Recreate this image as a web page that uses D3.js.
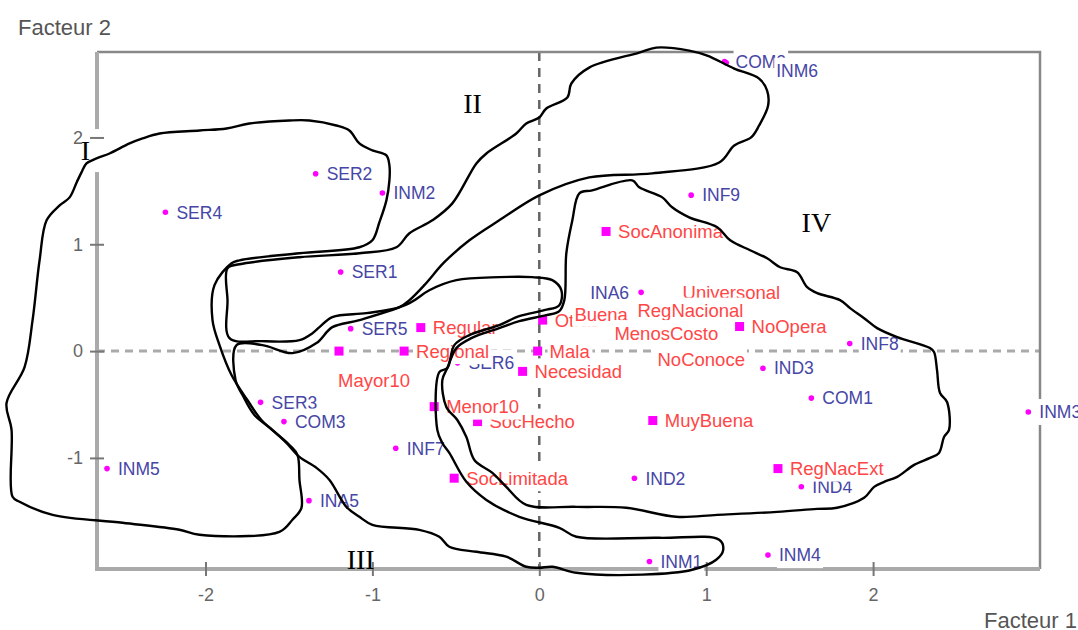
<!DOCTYPE html>
<html>
<head>
<meta charset="utf-8">
<script src="https://cdn.jsdelivr.net/npm/d3@7"></script>
<style>
  body { margin: 0; background: #fff; }
  text { font-family: "Liberation Sans", Arial, sans-serif; }
</style>
</head>
<body>
<script>
// tick values
const xTicks = [-2, -1, 0, 1, 2];
const yTicks = [-1, 0, 1, 2];

// blue points (individuals)
const blueNames = ['COM2', 'INM6', 'SER2', 'SER4', 'INM2', 'INF9', 'SER1', 'SER5', 'INA6', 'SER6', 'INF8', 'IND3',
  'COM1', 'INM3', 'SER3', 'COM3', 'INM5', 'INA5', 'INF7', 'IND2', 'INM1', 'IND4', 'INM4'];
const blueF1 = [1.11, 1.12, -1.34, -2.24, -0.94, 0.91, -1.19, -1.13, 0.61, -0.49, 1.86, 1.34,
  1.63, 2.93, -1.67, -1.53, -2.59, -1.38, -0.86, 0.57, 0.66, 1.57, 1.37];
const blueF2 = [2.71, 2.70, 1.66, 1.30, 1.48, 1.46, 0.74, 0.21, 0.55, -0.11, 0.07, -0.16,
  -0.44, -0.57, -0.48, -0.66, -1.10, -1.40, -0.91, -1.19, -1.97, -1.27, -1.91];

// red points (modalities)
const redNames = ['SocAnonima', 'Otras', 'Buena', 'Universonal', 'RegNacional', 'MenosCosto', 'NoOpera', 'NoConoce',
  'Regular', 'Regional', 'Mayor10', 'Mala', 'Necesidad', 'SocHecho', 'Menor10', 'MuyBuena', 'SocLimitada', 'RegNacExt'];
const redF1 = [0.40, 0.02, 0.36, 1.08, 0.75, 0.60, 1.20, 0.90,
  -0.71, -0.81, -1.20, -0.01, -0.10, -0.37, -0.63, 0.68, -0.51, 1.43];
const redF2 = [1.12, 0.29, 0.33, 0.53, 0.36, 0.15, 0.23, -0.10,
  0.22, 0.00, 0.00, 0.00, -0.19, -0.66, -0.52, -0.65, -1.19, -1.10];

// hand drawn groups, in factor units
const contourI = [[-2.952,1.224],[-2.874,1.364],[-2.814,1.439],[-2.772,1.579],[-2.743,1.673],[-2.713,1.757],[-2.653,1.804],
  [-2.575,1.850],[-2.455,1.944],[-2.377,1.991],[-2.275,2.037],[-2.036,2.065],[-1.874,2.084],[-1.737,2.131],[-1.497,2.159],
  [-1.377,2.159],[-1.216,2.112],[-1.138,2.065],[-1.078,1.944],[-1.0,1.879],[-0.916,1.832],[-0.898,1.738],[-0.898,1.598],
  [-0.916,1.411],[-0.958,1.206],[-1.0,1.037],[-1.078,0.972],[-1.437,0.916],[-1.796,0.850],[-1.844,0.822],[-1.946,0.617],
  [-1.958,0.290],[-1.916,0.056],[-1.844,-0.224],[-1.749,-0.458],[-1.665,-0.645],[-1.497,-0.879],[-1.449,-0.972],
  [-1.437,-1.206],[-1.425,-1.467],[-1.479,-1.579],[-1.557,-1.692],[-2.036,-1.720],[-2.156,-1.673],[-2.497,-1.607],
  [-2.916,-1.533],[-3.114,-1.411],[-3.156,-1.364],[-3.162,-0.738],[-3.192,-0.486],[-3.084,-0.150],[-3.036,0.290],[-2.994,0.850]];
const contourII = [[0.701,2.841],[0.599,2.794],[0.299,2.654],[0.192,2.505],[0.168,2.374],[0.042,2.271],[0.0,2.187],
  [-0.078,2.131],[-0.138,2.037],[-0.317,1.850],[-0.377,1.757],[-0.521,1.383],[-0.641,1.224],[-0.778,1.103],[-0.856,0.972],
  [-1.078,0.916],[-1.437,0.879],[-1.796,0.813],[-1.868,0.776],[-1.868,0.477],[-1.856,0.121],[-1.665,0.093],[-1.437,0.103],
  [-1.359,0.168],[-1.317,0.224],[-1.240,0.318],[-1.036,0.355],[-0.838,0.411],[-0.778,0.477],[-0.689,0.617],[-0.569,0.832],
  [-0.419,1.037],[-0.240,1.224],[0.0,1.458],[0.299,1.626],[0.677,1.664],[1.078,1.766],[1.168,1.925],[1.269,2.0],
  [1.317,2.112],[1.371,2.299],[1.365,2.439],[1.317,2.551],[1.168,2.645],[1.006,2.766],[0.898,2.813]];
const contourIII = [[-1.814,0.056],[-1.659,0.056],[-1.479,-0.019],[-1.335,0.075],[-1.240,0.224],[-1.078,0.290],[-0.778,0.449],
  [-0.659,0.570],[-0.497,0.664],[-0.240,0.692],[-0.042,0.692],[0.078,0.664],[0.132,0.570],[0.120,0.430],[0.030,0.383],
  [-0.120,0.327],[-0.240,0.243],[-0.419,0.150],[-0.509,0.056],[-0.551,-0.159],[-0.599,-0.196],[-0.611,-0.738],
  [-0.581,-0.860],[-0.539,-0.953],[-0.437,-1.224],[-0.317,-1.393],[-0.120,-1.551],[0.120,-1.654],[0.222,-1.738],
  [0.719,-1.748],[1.078,-1.766],[1.102,-1.860],[1.060,-1.953],[0.916,-2.047],[0.617,-2.093],[0.222,-2.075],[0.078,-2.019],
  [0.0,-2.028],[-0.078,-2.019],[-0.198,-1.925],[-0.377,-1.879],[-0.539,-1.832],[-0.599,-1.738],[-0.719,-1.673],
  [-1.0,-1.626],[-1.078,-1.551],[-1.156,-1.458],[-1.257,-1.206],[-1.335,-1.093],[-1.437,-0.991],[-1.515,-0.860],
  [-1.599,-0.738],[-1.707,-0.598],[-1.778,-0.411],[-1.820,-0.271]];
const contourIV = [[0.240,1.477],[0.317,1.505],[0.557,1.598],[0.599,1.533],[0.737,1.439],[0.796,1.346],[0.898,1.252],
  [1.066,1.159],[1.144,1.037],[1.263,0.944],[1.365,0.869],[1.443,0.785],[1.545,0.738],[1.605,0.598],[1.665,0.542],
  [1.802,0.477],[1.862,0.402],[1.946,0.308],[2.024,0.215],[2.144,0.131],[2.341,0.028],[2.365,-0.009],[2.383,-0.178],
  [2.401,-0.393],[2.443,-0.477],[2.455,-0.738],[2.425,-0.804],[2.395,-0.953],[2.341,-1.0],[2.246,-1.065],[2.144,-1.178],
  [2.066,-1.224],[2.006,-1.271],[1.946,-1.374],[1.784,-1.467],[1.665,-1.477],[1.425,-1.505],[1.066,-1.533],[0.820,-1.551],
  [0.521,-1.467],[0.222,-1.458],[-0.078,-1.439],[-0.198,-1.271],[-0.281,-1.140],[-0.389,-1.019],[-0.437,-0.804],
  [-0.491,-0.645],[-0.557,-0.523],[-0.581,-0.271],[-0.551,-0.159],[-0.497,0.028],[-0.407,0.121],[-0.240,0.215],
  [-0.120,0.280],[0.042,0.336],[0.120,0.374],[0.150,0.477],[0.162,0.916],[0.198,1.224]];
const contours = [contourI, contourII, contourIII, contourIV];

// roman group names
const groupNames = ['I', 'II', 'III', 'IV'];
const groupF1 = [-2.72, -0.40, -1.07, 1.66];
const groupF2 = [1.88, 2.32, -1.95, 1.21];

let frame = { width: 1078, height: 630 };
let svg = d3.select('body')
  .append('svg')
  .attr('width', frame.width)
  .attr('height', frame.height);

let x = d3.scaleLinear().domain([-2.65, 3.0]).range([97, 1040]);
let y = d3.scaleLinear().domain([-2.04, 2.80]).range([569, 52]);
let [x0, x1] = x.range();
let [y0, y1] = y.range();

// zero lines
svg.append('line')
  .attr('x1', x0).attr('x2', x1).attr('y1', y(0)).attr('y2', y(0))
  .attr('stroke', '#aaa').attr('stroke-width', 3).attr('stroke-dasharray', '8,6');
svg.append('line')
  .attr('x1', x(0)).attr('x2', x(0)).attr('y1', y1).attr('y2', y0)
  .attr('stroke', '#666').attr('stroke-width', 2.5).attr('stroke-dasharray', '9,7');

// frame
svg.append('path')
  .attr('d', `M${x0},${y1}H${x1}V${y0}`)
  .attr('fill', 'none').attr('stroke', '#888').attr('stroke-width', 2.5);
svg.append('path')
  .attr('d', `M${x0},${y1}V${y0}H${x1}`)
  .attr('fill', 'none').attr('stroke', '#aaa').attr('stroke-width', 4);

// white patch behind group I (breaks the left axis)
let gI = svg.append('text')
  .attr('x', x(groupF1[0])).attr('y', y(groupF2[0]))
  .attr('text-anchor', 'middle').attr('dy', '0.35em')
  .style('font-family', '"Liberation Serif", "Times New Roman", serif')
  .style('font-size', '28px').text('I');
let bI = gI.node().getBBox();
svg.insert('rect', 'text')
  .attr('x', bI.x - 10).attr('y', bI.y - 6).attr('width', bI.width + 26).attr('height', bI.height + 12)
  .attr('fill', '#fff');
gI.remove();

// axes
let xAxis = svg.append('g')
  .attr('transform', `translate(0, ${y0})`)
  .call(d3.axisBottom(x).tickValues(xTicks).tickSize(7).tickPadding(12).tickFormat(d => String(d)));
xAxis.select('.domain').remove();
xAxis.selectAll('.tick line').attr('y1', -7).attr('y2', 7).attr('stroke', '#777').attr('stroke-width', 2);

let yAxis = svg.append('g')
  .attr('transform', `translate(${x0}, 0)`)
  .call(d3.axisLeft(y).tickValues(yTicks).tickSize(7).tickPadding(7).tickFormat(d => String(d)));
yAxis.select('.domain').remove();
yAxis.selectAll('.tick line').attr('x1', -7).attr('x2', 7).attr('stroke', '#777').attr('stroke-width', 2);

svg.selectAll('.tick text')
  .style('font-family', '"Liberation Sans", Arial, sans-serif')
  .style('font-size', '18px')
  .attr('fill', '#666');

// axis titles
svg.append('text')
  .attr('x', 18).attr('y', 35)
  .style('font-size', '22px').attr('fill', '#555')
  .text('Facteur 2');
svg.append('text')
  .attr('x', 1077).attr('y', 628)
  .attr('text-anchor', 'end')
  .style('font-size', '22px').attr('fill', '#555')
  .text('Facteur 1');

// label nudges: [dx from mark, dy, anchor]
let nudge = {
  INM6: [50, 8],
  INA6: [-12, 0, 'end'],
  Mayor10: [-1, 29],
  Buena: [-25, -2],
  Universonal: [-37, -2],
  RegNacional: [-27, -2],
  MenosCosto: [-25, -2],
  NoConoce: [-32, -2]
};

function addPoint(name, f1, f2, kind) {
  let cx = x(f1), cy = y(f2);
  let g = svg.append('g');
  if (kind === 'blue') {
    g.append('circle').attr('cx', cx).attr('cy', cy).attr('r', 2.8).attr('fill', '#ff00ff');
  } else {
    g.append('rect').attr('x', cx - 4.5).attr('y', cy - 4.5).attr('width', 9).attr('height', 9).attr('fill', '#ff00ff');
  }
  let n = nudge[name] || [kind === 'blue' ? 11 : 12, 0];
  let t = g.append('text')
    .attr('x', cx + n[0]).attr('y', cy + n[1])
    .attr('dy', '0.36em')
    .attr('text-anchor', n[2] || 'start')
    .style('font-size', kind === 'blue' ? '17.5px' : '18.5px')
    .attr('fill', kind === 'blue' ? '#4646a6' : '#ff4646')
    .text(name);
  let b = t.node().getBBox();
  g.insert('rect', 'text')
    .attr('x', b.x - 2).attr('y', cy + n[1] - 13)
    .attr('width', b.width + 4).attr('height', 26)
    .attr('fill', '#fff');
}

blueNames.forEach((d, i) => addPoint(d, blueF1[i], blueF2[i], 'blue'));
redNames.forEach((d, i) => addPoint(d, redF1[i], redF2[i], 'red'));

// roman numerals
svg.selectAll('.group')
  .data(groupNames)
  .enter()
  .append('text')
  .attr('class', 'group')
  .attr('x', (d, i) => x(groupF1[i]))
  .attr('y', (d, i) => y(groupF2[i]))
  .attr('dy', '0.35em')
  .attr('text-anchor', 'middle')
  .style('font-family', '"Liberation Serif", "Times New Roman", serif')
  .style('font-size', '28px')
  .attr('fill', '#000')
  .text(d => d);

// hand drawn contours
let line = d3.line()
  .x(d => x(d[0]))
  .y(d => y(d[1]))
  .curve(d3.curveCatmullRomClosed.alpha(0.5));

svg.selectAll('.contour')
  .data(contours)
  .enter()
  .append('path')
  .attr('class', 'contour')
  .attr('d', line)
  .attr('fill', 'none')
  .attr('stroke', '#000')
  .attr('stroke-width', 2.4)
  .attr('stroke-linejoin', 'round');
</script>
</body>
</html>
